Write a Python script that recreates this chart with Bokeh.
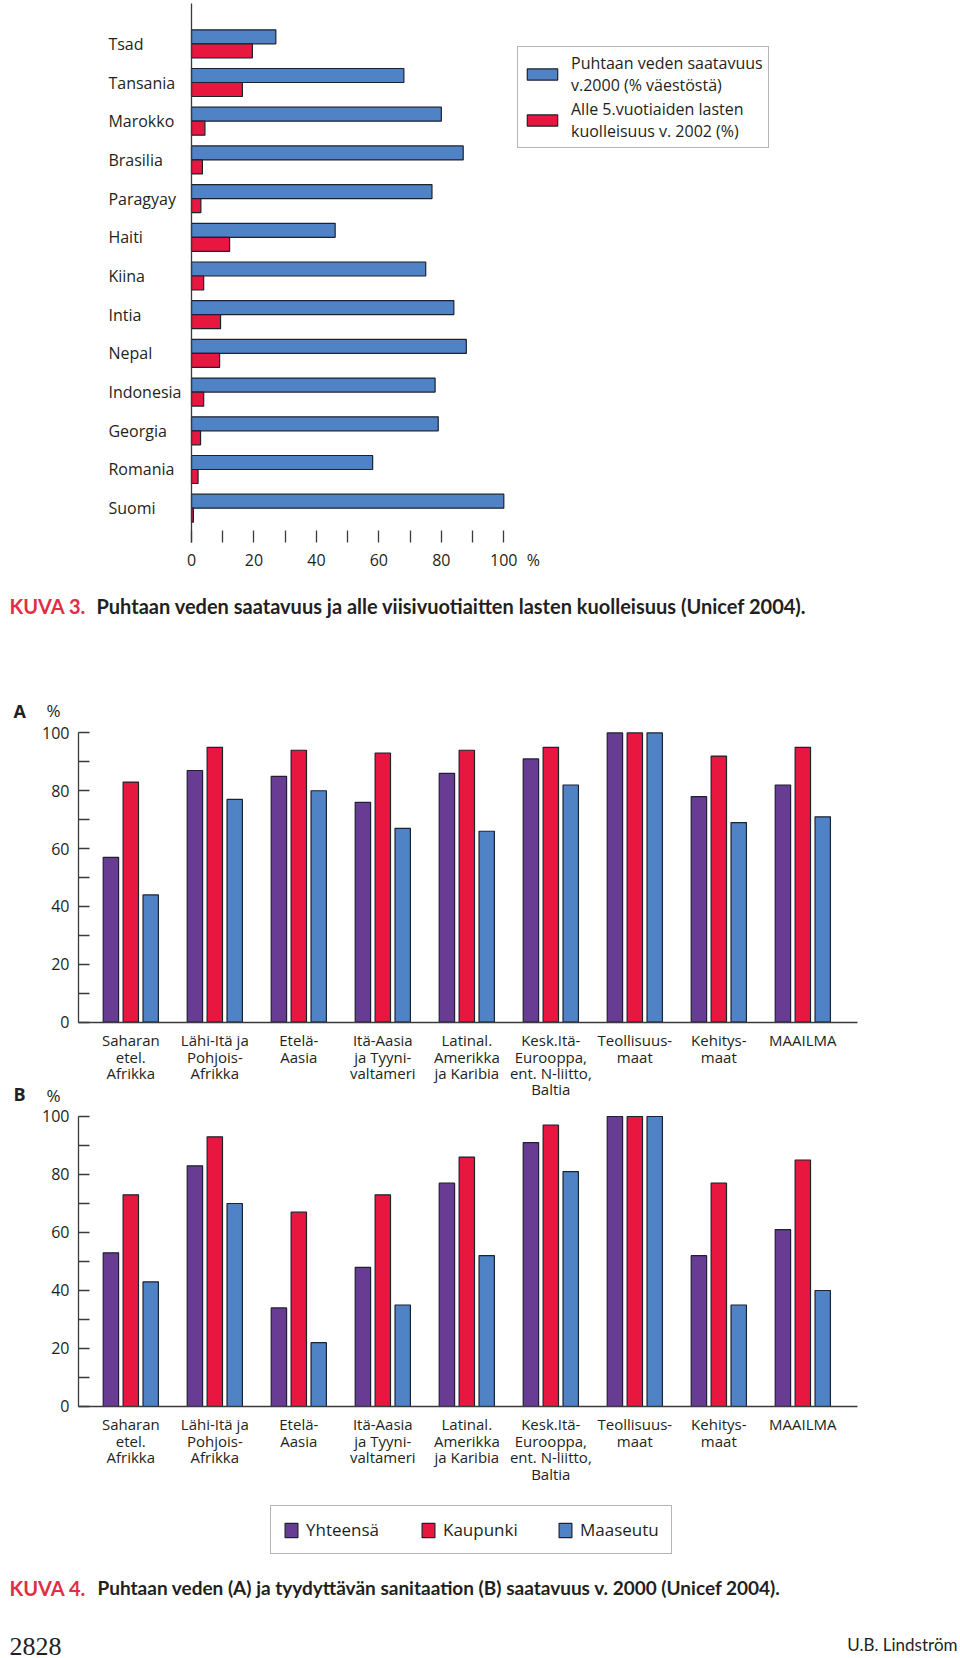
from bokeh.plotting import figure
from bokeh.models import (ColumnDataSource, Range1d, FixedTicker, LinearAxis,
                          Legend, LegendItem)
from bokeh.transform import dodge
from bokeh.core.properties import value
from bokeh.embed import file_html
from bokeh.resources import INLINE

# ---------------- data: KUVA 3 ----------------
countries = ["Tsad", "Tansania", "Marokko", "Brasilia", "Paragyay", "Haiti", "Kiina",
             "Intia", "Nepal", "Indonesia", "Georgia", "Romania", "Suomi"]
water_2000 = [27, 68, 80, 87, 77, 46, 75, 84, 88, 78, 79, 58, 100]
under5_mortality_2002 = [19.5, 16.3, 4.3, 3.5, 3.0, 12.2, 3.9, 9.3, 9.0, 3.9, 2.9, 2.1, 0.6]
pct_ticks = [0, 20, 40, 60, 80, 100]
pct_minor_ticks = [0, 10, 20, 30, 40, 50, 60, 70, 80, 90, 100]

# ---------------- data: KUVA 4 ----------------
regions = ["Saharan\netel.\nAfrikka", "Lähi-Itä ja\nPohjois-\nAfrikka", "Etelä-\nAasia",
           "Itä-Aasia\nja Tyyni-\nvaltameri", "Latinal.\nAmerikka\nja Karibia",
           "Kesk.Itä-\nEurooppa,\nent. N-liitto,\nBaltia", "Teollisuus-\nmaat",
           "Kehitys-\nmaat", "MAAILMA"]
water_total = [57, 87, 85, 76, 86, 91, 100, 78, 82]
water_urban = [83, 95, 94, 93, 94, 95, 100, 92, 95]
water_rural = [44, 77, 80, 67, 66, 82, 100, 69, 71]
sanit_total = [53, 83, 34, 48, 77, 91, 100, 52, 61]
sanit_urban = [73, 93, 67, 73, 86, 97, 100, 77, 85]
sanit_rural = [43, 70, 22, 35, 52, 81, 100, 35, 40]
series_names = ["Yhteensä", "Kaupunki", "Maaseutu"]

# ---------------- styles ----------------
FONT = "Open Sans"
CAPFONT = "Lato"
INK = "#231f20"
AX = "#3a3a3a"
EDGE = "#1e2230"
BLUE = "#4f83c6"
RED = "#e8173f"
PURPLE = "#673c92"
CAPRED = "#df2e45"

W, H = 960, 1658
p = figure(width=W, height=H, x_range=Range1d(0, W), y_range=Range1d(H, 0),
           x_axis_location=None, y_axis_location=None, toolbar_location=None,
           output_backend="svg", title=None, min_border=0, min_border_left=0,
           min_border_right=0, min_border_top=0, min_border_bottom=0,
           outline_line_color=None)
p.grid.visible = False
p.background_fill_color = "white"
p.border_fill_color = "white"

# ranges for the three charts (one frame covering the page)
p.extra_x_ranges = {"pct": Range1d(-61.159, 246.237), "reg": Range1d(-1.5512, 9.877)}
p.extra_y_ranges = {"cty": Range1d(41.724, -1.119),
                    "A": Range1d(-219.94, 353.16),
                    "B": Range1d(-86.90, 484.83)}

# ================= KUVA 3 =================
src1 = ColumnDataSource(dict(idx=list(range(len(countries))), country=countries,
                             water=water_2000, mort=under5_mortality_2002))
rb = p.hbar(y=dodge("idx", -0.181), left=0, right="water", height=0.362, source=src1,
            fill_color=BLUE, line_color=EDGE, line_width=1.2,
            x_range_name="pct", y_range_name="cty")
rr = p.hbar(y=dodge("idx", 0.181), left=0, right="mort", height=0.362, source=src1,
            fill_color=RED, line_color=EDGE, line_width=1.2,
            x_range_name="pct", y_range_name="cty")
p.text(x=-26.6, y="idx", text="country", source=src1, text_font=value(FONT),
       text_font_size="16px", text_baseline="middle", text_align="left", text_color=INK,
       x_range_name="pct", y_range_name="cty")

ax_top = LinearAxis(x_range_name="pct", y_range_name="cty", fixed_location=12.878,
                    ticker=FixedTicker(ticks=pct_ticks + [109.5], minor_ticks=pct_minor_ticks),
                    major_label_overrides={109.5: "%"}, axis_line_color=None,
                    major_tick_in=0, major_tick_out=0, minor_tick_in=12, minor_tick_out=0,
                    minor_tick_line_color=AX, minor_tick_line_width=1.3,
                    major_label_standoff=7, major_label_text_font=FONT,
                    major_label_text_font_size="16px", major_label_text_color=INK)
p.add_layout(ax_top, "below")
ax_v = LinearAxis(x_range_name="pct", y_range_name="cty", fixed_location=0,
                  bounds=(-1.041, 12.878), ticker=FixedTicker(ticks=[]),
                  major_tick_in=0, major_tick_out=0, minor_tick_in=0, minor_tick_out=0,
                  axis_line_color=AX, axis_line_width=1.3)
p.add_layout(ax_v, "left")

leg1 = Legend(items=[LegendItem(label="Puhtaan veden saatavuus\nv.2000 (% väestöstä)", renderers=[rb]),
                     LegendItem(label="Alle 5.vuotiaiden lasten\nkuolleisuus v. 2002 (%)", renderers=[rr])],
              location=(517, 1510), orientation="vertical", padding=5, spacing=2, margin=0,
              glyph_width=38, glyph_height=14, label_standoff=10, label_text_font=FONT,
              label_text_font_size="16px", label_text_color=INK,
              border_line_color="#6b6b6b", border_line_width=1.2, background_fill_color="white",
              background_fill_alpha=1.0)
p.add_layout(leg1)


# ================= KUVA 4 panels =================
def panel(yname, tot, urb, rur):
    src = ColumnDataSource(dict(idx=list(range(len(regions))), tot=tot, urb=urb, rur=rur))
    rs = []
    for col, off, color in (("tot", -0.237, PURPLE), ("urb", 0.0, RED), ("rur", 0.237, BLUE)):
        rs.append(p.vbar(x=dodge("idx", off), top=col, bottom=0, width=0.183, source=src,
                         fill_color=color, line_color=EDGE, line_width=1.2,
                         x_range_name="reg", y_range_name=yname))
    ya = LinearAxis(x_range_name="reg", y_range_name=yname, fixed_location=-0.6226,
                    bounds=(0, 100),
                    ticker=FixedTicker(ticks=pct_ticks, minor_ticks=[10, 30, 50, 70, 90]),
                    major_tick_in=11, major_tick_out=0, minor_tick_in=11, minor_tick_out=0,
                    major_tick_line_color=AX, minor_tick_line_color=AX,
                    major_tick_line_width=1.3, minor_tick_line_width=1.3,
                    axis_line_color=AX, axis_line_width=1.3, major_label_standoff=9,
                    major_label_text_font=FONT, major_label_text_font_size="16px",
                    major_label_text_color=INK)
    p.add_layout(ya, "left")
    xa = LinearAxis(x_range_name="reg", y_range_name=yname, fixed_location=0,
                    bounds=(-0.6226, 8.651),
                    ticker=FixedTicker(ticks=list(range(len(regions)))),
                    major_label_overrides={i: r for i, r in enumerate(regions)},
                    axis_line_color=AX, axis_line_width=1.3, major_tick_in=0, major_tick_out=0,
                    major_label_standoff=8, major_label_text_font=FONT,
                    major_label_text_font_size="15px", major_label_text_line_height=0.82,
                    major_label_text_color=INK)
    p.add_layout(xa, "below")
    return rs


panel("A", water_total, water_urban, water_rural)
rs_b = panel("B", sanit_total, sanit_urban, sanit_rural)

leg2 = Legend(items=[LegendItem(label=n, renderers=[r]) for n, r in zip(series_names, rs_b)],
              location=(270, 104), orientation="horizontal", padding=12, spacing=38, margin=0,
              glyph_width=16, glyph_height=18, label_standoff=7, label_width=76, label_height=18,
              label_text_font=FONT, label_text_font_size="17px", label_text_color=INK,
              border_line_color="#6b6b6b", border_line_width=1.2, background_fill_color="white",
              background_fill_alpha=1.0)
p.add_layout(leg2)

# ================= texts (page pixels, top-left origin) =================
cap_kw = dict(text_font=value(CAPFONT), text_font_style="bold",
              text_baseline="middle", text_align="left")
p.text(x=[9], y=[605], text=["KUVA 3."], text_color=CAPRED, text_font_size="20px", **cap_kw)
p.text(x=[96], y=[605],
       text=["Puhtaan veden saatavuus ja alle viisivuotiaitten lasten kuolleisuus (Unicef 2004)."],
       text_color=INK, text_font_size="20px", **cap_kw)
p.text(x=[9], y=[1587], text=["KUVA 4."], text_color=CAPRED, text_font_size="20px", **cap_kw)
p.text(x=[97], y=[1587],
       text=["Puhtaan veden (A) ja tyydyttävän sanitaation (B) saatavuus v. 2000 (Unicef 2004)."],
       text_color=INK, text_font_size="19px", **cap_kw)

p.text(x=[13, 13], y=[710, 1093], text=["A", "B"], text_font=value(FONT), text_font_style="bold",
       text_font_size="18px", text_baseline="middle", text_color=INK)
p.text(x=[46, 46], y=[710, 1095], text=["%", "%"], text_font=value(FONT),
       text_font_size="17px", text_baseline="middle", text_color=INK)

p.text(x=[9], y=[1646], text=["2828"], text_font=value("Liberation Serif"),
       text_font_size="26px", text_baseline="middle", text_color=INK)
p.text(x=[957], y=[1644], text=["U.B. Lindström"], text_font=value(CAPFONT),
       text_font_size="17px", text_baseline="middle", text_align="right", text_color=INK)

open("out.html", "w").write(file_html(p, INLINE))
